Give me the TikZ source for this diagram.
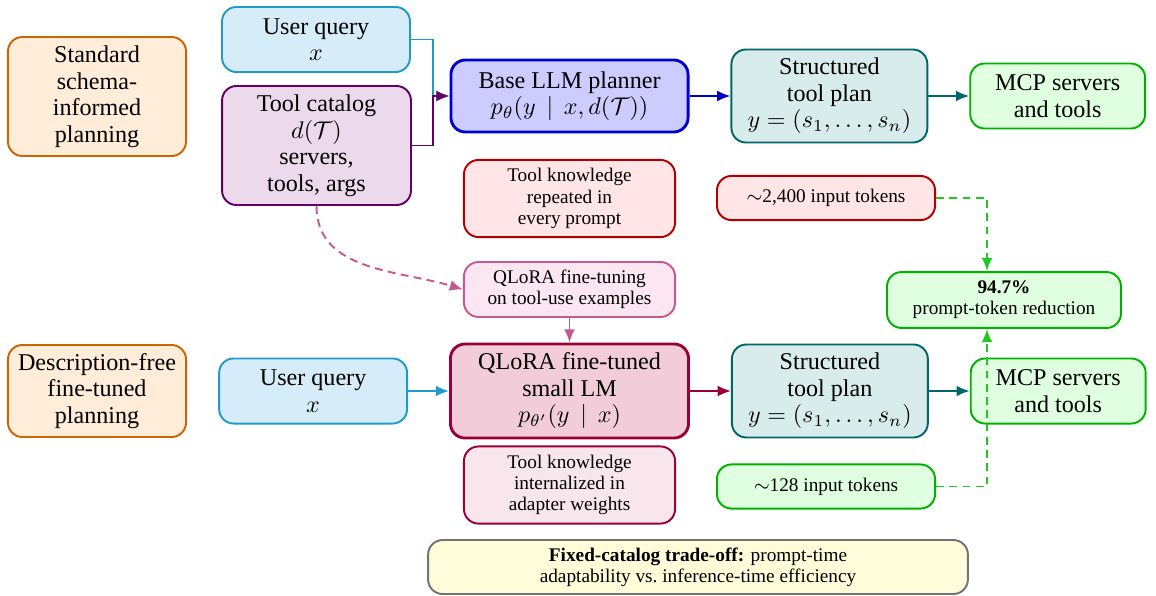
\documentclass[tikz,border=0pt]{standalone}
\usepackage{amsmath}
\usepackage{amssymb}
\usepackage[no-math]{fontspec}
\setmainfont{Liberation Serif}
\usepackage{tikz}
\usetikzlibrary{arrows.meta,positioning}
\definecolor{querykant}{HTML}{1E9BC8}
\definecolor{queryfyll}{HTML}{D6ECF8}
\definecolor{rosakant}{HTML}{C45A8F}
\definecolor{rosafyll}{HTML}{FBE6F1}
\definecolor{tokengronn}{HTML}{22C722}
\tikzset{
    %Define standard arrow tip
    >={Latex[length=5.5pt,width=4.5pt]},
    %Define style for boxes
    blokk/.style={
           rectangle,
           rounded corners=6pt,
           thick,
           inner sep=2pt,
           align=center,
           font=\fontsize{10}{11}\selectfont},
    notat/.style={
           blokk,
           font=\fontsize{8}{8.8}\selectfont},
    % colour sets
    oransje/.style={draw=orange!80!black, fill=orange!15},
    spor/.style={draw=querykant, fill=queryfyll},
    katalog/.style={draw=violet!80!black, fill=violet!15},
    plan/.style={draw=teal!80!black, fill=teal!15},
    mcp/.style={draw=green!70!black, fill=green!12},
    raud/.style={draw=red!70!black, fill=red!10},
    rosa/.style={draw=rosakant, fill=rosafyll},
    lilla/.style={draw=purple!80!black},
    % Define arrow style
    strek/.style={
           ->,
           thick},
    stiplet/.style={
           ->,
           thick,
           dash pattern=on 3.3pt off 2.2pt}
}
\begin{document}
\begin{tikzpicture}[x=0.415pt,y=-0.415pt,node distance=17pt]
\useasboundingbox (0,0) rectangle (1156,595);
 %nodes
\node[blokk, oransje, minimum width=73.9pt, minimum height=49.4pt](1) at (97,96.5){Standard\\schema-\\informed\\planning};
\node[blokk, spor, minimum width=78pt, minimum height=27pt](2) at (316,39.5){User query\\$x$};
\node[blokk, katalog, minimum width=78.4pt, minimum height=49.4pt](3) at (316.5,145.5){Tool catalog\\$d(\mathcal{T})$\\servers,\\tools, args};
\node[blokk, very thick, draw=blue!80!black, fill=blue!20, minimum width=98.4pt, minimum height=29.9pt](4) at (569.5,96){Base LLM planner\\$p_\theta(y \,\mid\, x, d(\mathcal{T}))$};
\node[blokk, plan, minimum width=81.3pt, minimum height=38.6pt, right=of 4](5){Structured\\tool plan\\$y = (s_1, \dots, s_n)$};
\node[blokk, mcp, minimum width=72.6pt, minimum height=27pt, right=of 5](6){MCP servers\\and tools};
\node[notat, raud, minimum width=87.6pt, minimum height=32pt](7) at (569.5,198.5){Tool knowledge\\repeated in\\every prompt};
\node[notat, raud, minimum width=90.5pt, minimum height=18.3pt](8) at (826,198){$\sim$2,400 input tokens};
\node[notat, rosa, minimum width=87.6pt, minimum height=22.8pt](9) at (569.5,289.5){QLoRA fine-tuning\\on tool-use examples};
\node[notat, mcp, minimum width=97.1pt, minimum height=23.2pt](10) at (1004,300){\textbf{94.7\%}\\prompt-token reduction};
\node[blokk, oransje, minimum width=73.9pt, minimum height=38.2pt](11) at (97,391){Description-free\\fine-tuned\\planning};
\node[blokk, very thick, lilla, fill=purple!20, minimum width=98.8pt, minimum height=39pt](13) at (569.5,391){QLoRA fine-tuned\\small LM\\$p_{\theta'}(y \,\mid\, x)$};
\node[blokk, spor, minimum width=78pt, minimum height=27pt, left=of 13](12){User query\\$x$};
\node[blokk, plan, minimum width=81.3pt, minimum height=38.6pt, right=of 13](14){Structured\\tool plan\\$y = (s_1, \dots, s_n)$};
\node[blokk, mcp, minimum width=72.6pt, minimum height=27pt, right=of 14](15){MCP servers\\and tools};
\node[notat, lilla, fill=purple!10, minimum width=87.6pt, minimum height=32pt](16) at (569.5,485){Tool knowledge\\internalized in\\adapter weights};
\node[notat, mcp, minimum width=90.5pt, minimum height=18.3pt](17) at (826,486.5){$\sim$128 input tokens};
\node[notat, draw=black!55, fill=yellow!15, minimum width=224pt, minimum height=22.4pt](18) at (698,567){\textbf{Fixed-catalog trade-off:} prompt-time\\adaptability vs.\ inference-time efficiency};
 %connectors
\coordinate (k) at (433,96);
\coordinate (t) at (987,0);
\draw[strek, querykant] (2.east) -| (k) -- (4.west);
\draw[strek, violet!80!black] (3.east) -| (k) -- (4.west);
\draw[strek, blue!80!black] (4.east) -- (5.west);
\draw[strek, teal!80!black] (5.east) -- (6.west);
\draw[stiplet, rosakant] (3.south) to[out=-90,in=163] (9.west);
\draw[strek, rosakant] (9.south) -- (13.north);
\draw[strek, querykant] (12.east) -- (13.west);
\draw[strek, purple!80!black] (13.east) -- (14.west);
\draw[strek, teal!80!black] (14.east) -- (15.west);
\draw[stiplet, tokengronn] (8.east) -| (t |- 10.north);
\draw[stiplet, tokengronn] (17.east) -| (t |- 10.south);
\end{tikzpicture}
\end{document}
